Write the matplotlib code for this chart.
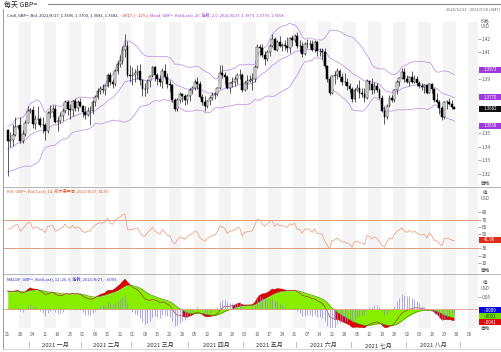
import numpy as np
import pandas as pd
import matplotlib
matplotlib.use('Agg')
import matplotlib.pyplot as plt
from matplotlib.patches import Rectangle
from matplotlib.lines import Line2D
from matplotlib.transforms import blended_transform_factory as blend

plt.rcParams['font.family'] = ['Noto Sans CJK SC', 'DejaVu Sans']

# closes before the window (2020-10-19 .. 2020-12-18), only used to warm up the indicators
prior_close = [1.2955, 1.2940, 1.3140, 1.3050, 1.3045, 1.3015, 1.3000, 1.2965, 1.2930, 1.2945,
               1.2950, 1.2950, 1.3050, 1.3140, 1.3150, 1.3190, 1.3180, 1.3275, 1.3200, 1.3130,
               1.3245, 1.3265, 1.3255, 1.3265, 1.3285, 1.3315, 1.3355, 1.3370, 1.3355, 1.3315,
               1.3345, 1.3395, 1.3365, 1.3465, 1.3440, 1.3385, 1.3365, 1.3375, 1.3285, 1.3225,
               1.3320, 1.3465, 1.3530, 1.3585, 1.3505]

# daily GBP= 2020-12-21 .. 2021-08-27, one row = two weeks
opens = [1.3525, 1.3445, 1.3455, 1.3490, 1.3550,  1.3560, 1.3445, 1.3495, 1.3580, 1.3670,
         1.3672, 1.3570, 1.3610, 1.3605, 1.3565,  1.3565, 1.3515, 1.3650, 1.3660, 1.3680,
         1.3585, 1.3595, 1.3630, 1.3665, 1.3735,  1.3685, 1.3675, 1.3740, 1.3690, 1.3730,
         1.3705, 1.3660, 1.3640, 1.3670, 1.3665,  1.3735, 1.3770, 1.3815, 1.3830, 1.3825,
         1.3850, 1.3930, 1.3880, 1.3865, 1.3960,  1.4015, 1.4040, 1.4120, 1.4150, 1.3930,
         1.3925, 1.3930, 1.3950, 1.3960, 1.3895,  1.3830, 1.3830, 1.3890, 1.3925, 1.3990,
         1.3930, 1.3905, 1.3880, 1.3965, 1.3920,  1.3865, 1.3860, 1.3745, 1.3680, 1.3745,
         1.3795, 1.3775, 1.3745, 1.3780, 1.3825,  1.3835, 1.3880, 1.3865, 1.3770, 1.3735,
         1.3700, 1.3740, 1.3765, 1.3785, 1.3790,  1.3835, 1.3945, 1.3930, 1.3915, 1.3840,
         1.3875, 1.3885, 1.3900, 1.3935, 1.3935,  1.3820, 1.3875, 1.3890, 1.3895, 1.3905,
         1.3995, 1.4140, 1.4130, 1.4085, 1.4050,  1.4100, 1.4150, 1.4200, 1.4115, 1.4180,
         1.4150, 1.4155, 1.4145, 1.4130, 1.4205,  1.4190, 1.4225, 1.4150, 1.4145, 1.4090,
         1.4160, 1.4165, 1.4160, 1.4120, 1.4175,  1.4110, 1.4110, 1.4100, 1.4000, 1.3900,
         1.3800, 1.3925, 1.3930, 1.3965, 1.3920,  1.3880, 1.3880, 1.3850, 1.3830, 1.3755,
         1.3825, 1.3835, 1.3800, 1.3795, 1.3760,  1.3890, 1.3870, 1.3820, 1.3855, 1.3825,
         1.3765, 1.3670, 1.3625, 1.3705, 1.3760,  1.3745, 1.3820, 1.3885, 1.3910, 1.3955,
         1.3900, 1.3880, 1.3915, 1.3885, 1.3905,  1.3875, 1.3855, 1.3845, 1.3860, 1.3800,
         1.3870, 1.3830, 1.3745, 1.3735, 1.3690,  1.3620, 1.3730, 1.3735, 1.3720, 1.3696]
highs = [1.3535, 1.3508, 1.3570, 1.3625, 1.3565,  1.3620, 1.3525, 1.3598, 1.3705, 1.3690,
         1.3705, 1.3640, 1.3705, 1.3625, 1.3620,  1.3580, 1.3665, 1.3710, 1.3712, 1.3710,
         1.3620, 1.3660, 1.3690, 1.3745, 1.3745,  1.3720, 1.3745, 1.3760, 1.3745, 1.3760,
         1.3710, 1.3700, 1.3695, 1.3705, 1.3745,  1.3785, 1.3835, 1.3855, 1.3865, 1.3865,
         1.3950, 1.3955, 1.3905, 1.3975, 1.4035,  1.4080, 1.4145, 1.4240, 1.4185, 1.4010,
         1.3990, 1.3975, 1.4005, 1.4015, 1.3900,  1.3875, 1.3905, 1.3935, 1.4000, 1.4000,
         1.3950, 1.3935, 1.3985, 1.4015, 1.3945,  1.3895, 1.3870, 1.3760, 1.3760, 1.3810,
         1.3800, 1.3790, 1.3790, 1.3835, 1.3850,  1.3900, 1.3920, 1.3890, 1.3790, 1.3775,
         1.3745, 1.3775, 1.3810, 1.3810, 1.3845,  1.4010, 1.4005, 1.3955, 1.3935, 1.3885,
         1.3915, 1.3925, 1.3950, 1.3975, 1.3945,  1.3890, 1.3935, 1.3935, 1.3945, 1.4005,
         1.4165, 1.4165, 1.4165, 1.4110, 1.4115,  1.4165, 1.4235, 1.4215, 1.4195, 1.4220,
         1.4170, 1.4190, 1.4215, 1.4215, 1.4230,  1.4235, 1.4250, 1.4195, 1.4180, 1.4180,
         1.4200, 1.4190, 1.4190, 1.4190, 1.4185,  1.4135, 1.4130, 1.4130, 1.4010, 1.3925,
         1.3935, 1.3965, 1.3985, 1.3980, 1.3945,  1.3945, 1.3910, 1.3875, 1.3845, 1.3840,
         1.3865, 1.3895, 1.3840, 1.3840, 1.3905,  1.3895, 1.3910, 1.3880, 1.3875, 1.3840,
         1.3785, 1.3700, 1.3720, 1.3785, 1.3785,  1.3830, 1.3895, 1.3920, 1.3985, 1.3985,
         1.3935, 1.3925, 1.3960, 1.3930, 1.3925,  1.3890, 1.3875, 1.3870, 1.3860, 1.3875,
         1.3875, 1.3835, 1.3800, 1.3745, 1.3705,  1.3740, 1.3750, 1.3760, 1.3745, 1.3703]
lows = [1.3188, 1.3398, 1.3410, 1.3480, 1.3530,  1.3430, 1.3430, 1.3485, 1.3575, 1.3655,
        1.3540, 1.3535, 1.3570, 1.3545, 1.3500,  1.3450, 1.3500, 1.3615, 1.3625, 1.3580,
        1.3520, 1.3580, 1.3595, 1.3650, 1.3640,  1.3610, 1.3630, 1.3665, 1.3670, 1.3695,
        1.3625, 1.3610, 1.3630, 1.3565, 1.3645,  1.3705, 1.3755, 1.3795, 1.3800, 1.3785,
        1.3845, 1.3860, 1.3835, 1.3855, 1.3940,  1.3990, 1.4015, 1.4070, 1.3920, 1.3885,
        1.3860, 1.3885, 1.3900, 1.3860, 1.3775,  1.3780, 1.3800, 1.3845, 1.3920, 1.3890,
        1.3860, 1.3855, 1.3835, 1.3905, 1.3835,  1.3810, 1.3735, 1.3670, 1.3670, 1.3725,
        1.3735, 1.3710, 1.3720, 1.3740, 1.3795,  1.3825, 1.3830, 1.3760, 1.3710, 1.3670,
        1.3690, 1.3710, 1.3745, 1.3755, 1.3775,  1.3830, 1.3910, 1.3870, 1.3830, 1.3800,
        1.3845, 1.3850, 1.3870, 1.3900, 1.3805,  1.3815, 1.3830, 1.3880, 1.3825, 1.3880,
        1.3985, 1.4075, 1.4070, 1.4005, 1.4035,  1.4075, 1.4140, 1.4115, 1.4110, 1.4140,
        1.4110, 1.4120, 1.4105, 1.4095, 1.4145,  1.4175, 1.4135, 1.4100, 1.4065, 1.4080,
        1.4130, 1.4130, 1.4110, 1.4100, 1.4075,  1.4075, 1.4055, 1.3985, 1.3880, 1.3785,
        1.3790, 1.3870, 1.3905, 1.3890, 1.3860,  1.3860, 1.3820, 1.3800, 1.3730, 1.3735,
        1.3815, 1.3760, 1.3770, 1.3730, 1.3755,  1.3825, 1.3790, 1.3800, 1.3805, 1.3755,
        1.3660, 1.3570, 1.3605, 1.3695, 1.3735,  1.3730, 1.3795, 1.3850, 1.3905, 1.3880,
        1.3875, 1.3850, 1.3875, 1.3875, 1.3850,  1.3835, 1.3825, 1.3800, 1.3795, 1.3800,
        1.3800, 1.3735, 1.3725, 1.3645, 1.3600,  1.3605, 1.3685, 1.3710, 1.3685, 1.3681]
closes = [1.3445, 1.3455, 1.3490, 1.3550, 1.3555,  1.3445, 1.3495, 1.3580, 1.3670, 1.3672,
          1.3570, 1.3610, 1.3605, 1.3565, 1.3565,  1.3515, 1.3650, 1.3660, 1.3680, 1.3585,
          1.3595, 1.3630, 1.3665, 1.3735, 1.3685,  1.3675, 1.3740, 1.3690, 1.3730, 1.3705,
          1.3660, 1.3640, 1.3670, 1.3665, 1.3735,  1.3770, 1.3815, 1.3830, 1.3825, 1.3850,
          1.3930, 1.3880, 1.3865, 1.3960, 1.4015,  1.4040, 1.4120, 1.4150, 1.3930, 1.3925,
          1.3930, 1.3950, 1.3960, 1.3895, 1.3830,  1.3830, 1.3890, 1.3925, 1.3990, 1.3930,
          1.3905, 1.3880, 1.3965, 1.3920, 1.3865,  1.3860, 1.3745, 1.3680, 1.3745, 1.3795,
          1.3775, 1.3745, 1.3780, 1.3825, 1.3835,  1.3880, 1.3865, 1.3770, 1.3735, 1.3700,
          1.3740, 1.3765, 1.3785, 1.3790, 1.3835,  1.3945, 1.3930, 1.3915, 1.3840, 1.3875,
          1.3885, 1.3900, 1.3935, 1.3935, 1.3820,  1.3875, 1.3890, 1.3895, 1.3905, 1.3995,
          1.4140, 1.4130, 1.4085, 1.4050, 1.4100,  1.4150, 1.4200, 1.4115, 1.4180, 1.4150,
          1.4155, 1.4145, 1.4130, 1.4205, 1.4190,  1.4225, 1.4150, 1.4145, 1.4090, 1.4160,
          1.4165, 1.4160, 1.4120, 1.4175, 1.4110,  1.4110, 1.4100, 1.4000, 1.3900, 1.3800,
          1.3925, 1.3930, 1.3965, 1.3920, 1.3880,  1.3880, 1.3850, 1.3830, 1.3755, 1.3825,
          1.3835, 1.3800, 1.3795, 1.3760, 1.3890,  1.3870, 1.3820, 1.3855, 1.3825, 1.3765,
          1.3670, 1.3625, 1.3705, 1.3760, 1.3745,  1.3820, 1.3885, 1.3910, 1.3955, 1.3900,
          1.3880, 1.3915, 1.3885, 1.3905, 1.3875,  1.3855, 1.3845, 1.3860, 1.3800, 1.3870,
          1.3830, 1.3745, 1.3735, 1.3690, 1.3620,  1.3730, 1.3735, 1.3720, 1.3696, 1.3682]

day_labels = ['21', '28', '04', '11', '18', '25', '01', '08', '15', '22', '01', '08', '15',
              '22', '29', '05', '12', '19', '26', '03', '10', '17', '24', '31', '07', '14',
              '21', '28', '05', '12', '19', '26', '02', '09', '16', '23', '30', '06']
month_names = ['2021 一月', '2021 二月', '2021 三月', '2021 四月',
               '2021 五月', '2021 六月', '2021 七月', '2021 八月']
month_starts = [9, 30, 50, 73, 95, 116, 138, 160, 182]   # trading-day index of each month's first day

# right-axis labels that stay visible (the others sit under the value tags)
price_ticks = [1.32, 1.33, 1.34, 1.35, 1.39, 1.41, 1.42]
rsi_ticks = [10, 20, 30, 50, 60, 70, 80]
band_tags = ['1.3973', '1.3770', '1.3558']
last_tag = '1.3682'
rsi_tag = '41.96'
macd_tags = ['-.0009', '-.0032', '-.0041']

# ---- indicators (computed from the closes) ----
allc = pd.Series(prior_close + closes)
n0 = len(prior_close)
mid = allc.ewm(span=20, adjust=False).mean()
sd = allc.rolling(20, min_periods=1).std(ddof=0)
bb_up = (mid + 2 * sd).values[n0:]
bb_mid = mid.values[n0:]
bb_lo = (mid - 2 * sd).values[n0:]

delta = allc.diff().fillna(0)
gain = delta.clip(lower=0).ewm(alpha=1 / 14, adjust=False).mean()
loss = (-delta.clip(upper=0)).ewm(alpha=1 / 14, adjust=False).mean()
rsi = (100 - 100 / (1 + gain / loss)).values[n0:]

macd_s = allc.ewm(span=12, adjust=False).mean() - allc.ewm(span=26, adjust=False).mean()
sig_s = macd_s.ewm(span=9, adjust=False).mean()
macd = macd_s.values[n0:]
sig = sig_s.values[n0:]

W, H = 502, 352
fig = plt.figure(figsize=(W / 100, H / 100), dpi=100)

def box(top, bot):
    return [4 / W, 1 - bot / H, 474 / W, (bot - top) / H]

ax1 = fig.add_axes(box(22, 186))
ax2 = fig.add_axes(box(188, 274))
ax3 = fig.add_axes(box(275, 328))

x = np.arange(len(closes))
o = np.array(opens); h = np.array(highs); l = np.array(lows); c = np.array(closes)

ax1.set_ylim(1.31111, 1.43259)
ax2.set_ylim(-5.7, 113.8)
ax3.set_ylim(-0.0073, 0.0135)
for ax in (ax1, ax2, ax3):
    ax.set_xlim(-1.5, 188.5)
    for k in range(1, 38, 2):
        ax.axvspan(5 * k - 0.5, 5 * k + 4.5, color='#f4f4f4', lw=0, zorder=0)
    for s in ax.spines.values():
        s.set_visible(False)
    ax.set_xticks([])
    ax.yaxis.tick_right()
    ax.tick_params(axis='y', labelsize=3.4, length=1.8, width=0.4, pad=1,
                   colors='#666666', labelcolor='#555555')

# price panel
up = c >= o
ax1.vlines(x, l, h, color='black', lw=0.45, zorder=3)
body = np.maximum(np.abs(c - o), 0.00012)
ax1.bar(x[up], body[up], bottom=o[up], width=0.75, facecolor='white',
        edgecolor='black', lw=0.35, zorder=4)
ax1.bar(x[~up], body[~up], bottom=c[~up], width=0.75, facecolor='black',
        edgecolor='black', lw=0.35, zorder=4)
for band in (bb_up, bb_mid, bb_lo):
    ax1.plot(x, band, color='#c09ae8', lw=0.6, zorder=2)
ax1.set_yticks(price_ticks)
ax1.set_yticklabels([('%.2f' % v).rstrip('0') for v in price_ticks])

# RSI panel
ax2.plot(x, rsi, color='#eea488', lw=0.6, zorder=3)
ax2.axhline(70, color='#e59a80', lw=0.7, zorder=2)
ax2.axhline(30, color='#e59a80', lw=0.7, zorder=2)
ax2.set_yticks(rsi_ticks)

# MACD panel
ax3.fill_between(x, 0, sig, color='#88ee00', lw=0, zorder=2)
outside = ((macd > sig) & (sig > 0)) | ((macd < sig) & (sig < 0))
ax3.fill_between(x, sig, macd, where=outside, interpolate=True, color='#e00000', lw=0, zorder=3)
ax3.plot(x, sig, color='#4f9a10', lw=0.5, zorder=4)
ax3.plot(x, macd, color='#b01010', lw=0.4, zorder=4)
ax3.vlines(x, 0, (macd - sig) * 2, color='#8a8ae8', lw=0.5, zorder=5)
ax3.axhline(0, color='#e59a80', lw=0.6, zorder=5)
ax3.set_yticks([0.005])
ax3.set_yticklabels(['.005'])

# value tags on the right
def tag(ax, val, txt, fc, tc='white'):
    y0, y1 = ax.get_ylim()
    hpx = ax.get_position().height * H
    hh = 6.0 * (y1 - y0) / hpx
    tr = blend(fig.transFigure, ax.transData)
    ax.add_patch(Rectangle((479 / W, val - hh / 2), 22 / W, hh, transform=tr,
                           facecolor=fc, edgecolor='none', clip_on=False, zorder=20))
    ax.text(490 / W, val, txt, transform=tr, fontsize=3.2, color=tc, ha='center',
            va='center', clip_on=False, zorder=21)

def px_to_val(ax, ypx_from_zero):
    y0, y1 = ax.get_ylim()
    return -ypx_from_zero * (y1 - y0) / (ax.get_position().height * H)

tag(ax1, float(band_tags[0]), band_tags[0], '#a238dc')
tag(ax1, float(band_tags[1]), band_tags[1], '#a238dc')
tag(ax1, float(last_tag), last_tag, '#111111')
tag(ax1, float(band_tags[2]), band_tags[2], '#a238dc')
tag(ax2, float(rsi_tag), rsi_tag, '#e02a1a')
tag(ax3, px_to_val(ax3, 1), macd_tags[0], '#0a0ad8')
tag(ax3, px_to_val(ax3, 7), macd_tags[1], '#70dc00', '#114400')
tag(ax3, px_to_val(ax3, 13), macd_tags[2], '#dd0a0a')

def ftext(px, py, s, **kw):
    return fig.text(px / W, 1 - py / H, s, **kw)

for py, s in [(21, '价格'), (26, 'USD'), (193, '值'), (199, 'USD'), (283, '值'), (289, 'USD')]:
    ftext(485, py, s, fontsize=3.2, color='#555555', ha='center', va='center')
for py in (183, 270, 328.5):
    ftext(485, py, '自动', fontsize=3.3, color='#333333', ha='center', va='center')

# header lines, several colours chained one after the other
def chain_texts(px, py, parts, size=3.0):
    prev = None
    for s, col in parts:
        if prev is None:
            prev = ftext(px, py, s, fontsize=size, color=col, va='center', ha='left')
        else:
            prev = ax1.annotate(s, xy=(1, 0.5), xycoords=prev, va='center', ha='left',
                                fontsize=size, color=col, annotation_clip=False)

ftext(4, 5, '每天 GBP=', fontsize=5, color='#222222', va='center', ha='left')
ftext(500, 9, '2020/12/21 - 2021/9/10 (GMT)', fontsize=2.8, color='#666666',
      va='center', ha='right')
chain_texts(7, 15, [('Cndl, GBP=, Bid, 2021/8/27, 1.3696, 1.3703, 1.3681, 1.3682, ', '#222244'),
                    ('-.0017, (-.12%), ', '#dd2222'),
                    ('Mavd, GBP=, Bid(Last), 20, 指数, 2.0, 2021/8/27, 1.3973, 1.3770, 1.3558',
                     '#a040d8')])
chain_texts(7, 191, [('RSI, GBP=, Bid(Last), 14, 威尔德平滑, 2021/8/27, 41.96', '#e05a2a')])
chain_texts(7, 279, [('MACDF, GBP=, Bid(Last), 12, 26, 9, 指数, 2021/8/27, -.0009, ', '#2a2ad0'),
                     ('MACD, GBP=, Bid(Last), 12, 26, 9, 指数, 2021/8/27, -.0041, ', '#dd2222'),
                     ('-.0032', '#66cc00')])

# x axis labels
tx = blend(ax3.transData, fig.transFigure)
for i, s in enumerate(day_labels):
    ax3.text(5 * i, 1 - 334 / H, s, transform=tx, fontsize=3.4, color='#666666',
             ha='center', va='center', clip_on=False)
for m in month_starts:
    ax3.text(m - 0.5, 1 - 345 / H, '|', transform=tx, fontsize=4, color='#555555',
             ha='center', va='center', clip_on=False)
for a, b, s in zip(month_starts[:-1], month_starts[1:], month_names):
    ax3.text((a + b) / 2 - 0.5, 1 - 345 / H, s, transform=tx, fontsize=4.3, color='#333333',
             ha='center', va='center', clip_on=False)

# frame lines
def fline(x0, y0, x1, y1, col='#9a9a9a', lw=0.7):
    fig.add_artist(Line2D([x0 / W, x1 / W], [1 - y0 / H, 1 - y1 / H], color=col, lw=lw))

fline(48, 3.5, 502, 3.5, '#888888', 0.8)
fline(3, 9, 3, 349)
fline(3, 186.5, 502, 186.5, '#aaaaaa', 0.6)
fline(3, 274, 502, 274, '#aaaaaa', 0.6)
fline(3, 349, 502, 349, '#cccccc', 0.6)

fig.savefig('out.png', dpi=100, facecolor='white')
